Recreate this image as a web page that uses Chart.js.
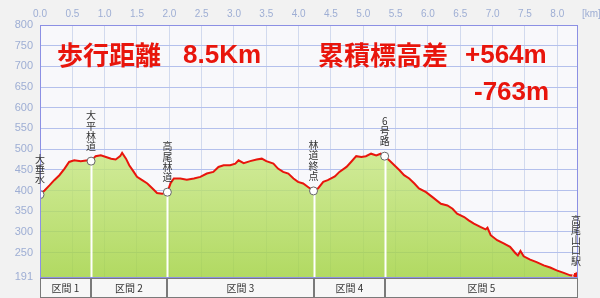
<!DOCTYPE html>
<html>
<head>
<meta charset="utf-8">
<script src="https://cdn.jsdelivr.net/npm/chart.js@4.4.0/dist/chart.umd.min.js"></script>
<style>
  html, body { margin: 0; padding: 0; background: #f2f2f2; }
  #wrap { width: 600px; height: 298px; }
</style>
</head>
<body>
<div id="wrap"><canvas id="profile" width="600" height="298"></canvas></div>
<script>
// elevation profile
const distKm = [0, 0.07, 0.15, 0.22, 0.30, 0.38, 0.45, 0.53, 0.63, 0.74, 0.79, 0.86, 0.94, 1.02, 1.10, 1.17, 1.24, 1.27, 1.33, 1.38,
  1.45, 1.50, 1.58, 1.66, 1.74, 1.81, 1.89, 1.97, 2.02, 2.07, 2.17, 2.27, 2.38, 2.48, 2.58, 2.68, 2.76, 2.84, 2.94, 3.02,
  3.07, 3.15, 3.25, 3.35, 3.43, 3.50, 3.61, 3.68, 3.76, 3.84, 3.92, 3.99, 4.07, 4.15, 4.23, 4.30, 4.38, 4.45, 4.56, 4.63,
  4.74, 4.81, 4.89, 4.97, 5.04, 5.12, 5.20, 5.27, 5.33, 5.40, 5.48, 5.56, 5.63, 5.71, 5.79, 5.86, 5.97, 6.07, 6.20, 6.30,
  6.38, 6.45, 6.56, 6.63, 6.71, 6.81, 6.89, 6.92, 6.97, 7.07, 7.17, 7.27, 7.35, 7.39, 7.43, 7.48, 7.58, 7.68, 7.79, 7.89,
  7.99, 8.10, 8.20, 8.30];
const elevM = [390, 400, 413, 425, 437, 453, 469, 473, 471, 473, 471, 483, 485, 481, 477, 475, 483, 491, 477, 461,
  445, 433, 425, 417, 405, 394, 392, 396, 418, 429, 429, 426, 429, 433, 441, 445, 457, 461, 461, 465,
  473, 466, 471, 475, 477, 471, 465, 453, 445, 441, 429, 421, 417, 408, 399, 405, 421, 425, 434, 445,
  457, 469, 483, 481, 483, 489, 485, 489, 483, 473, 461, 449, 437, 429, 417, 405, 396, 384, 368, 364,
  356, 344, 336, 328, 320, 312, 306, 310, 292, 280, 272, 264, 249, 243, 254, 241, 233, 227, 219, 214,
  207, 201, 195, 194];

const spotNames = ['大垂水', '大平林道', '高尾林道', '林道終点', '6号路', '高尾山口駅'];
const spotKm = [0, 0.79, 1.97, 4.23, 5.33, 8.30];
const spotElev = [390, 471, 396, 399, 483, 194];

const sectionNames = ['区間 1', '区間 2', '区間 3', '区間 4', '区間 5'];
const sectionBounds = [0, 0.79, 1.97, 4.23, 5.33, 8.32];

const xTicks = [0, 0.5, 1, 1.5, 2, 2.5, 3, 3.5, 4, 4.5, 5, 5.5, 6, 6.5, 7, 7.5, 8];
const yTicks = [191, 250, 300, 350, 400, 450, 500, 550, 600, 650, 700, 750, 800];

const titleDist = ['歩行距離', '8.5Km'];
const titleClimb = ['累積標高差', '+564m', '-763m'];

const TICK_COLOR = '#9eaed4';
const RED = '#e8150c';

const backdrop = {
  id: 'backdrop',
  beforeDraw(chart) {
    const {ctx, chartArea: a} = chart;
    ctx.save();
    ctx.fillStyle = '#f2f2f2';
    ctx.fillRect(0, 0, chart.width, chart.height);
    ctx.fillStyle = '#f8f8fb';
    ctx.fillRect(a.left, a.top, a.right - a.left, a.bottom - a.top);
    ctx.restore();
  }
};

//white drop lines under the waypoint markers
const dropLines = {
  id: 'dropLines',
  beforeDatasetDraw(chart, args) {
    if (args.index !== 0) return;
    const {ctx, scales: {x, y}, chartArea: a} = chart;
    ctx.save();
    ctx.strokeStyle = '#ffffff';
    ctx.lineWidth = 2;
    spotKm.forEach((km, i) => {
      if (i == 0 || i == spotKm.length - 1) return;
      const px = Math.round(x.getPixelForValue(km)) + 0.5;
      ctx.beginPath();
      ctx.moveTo(px, y.getPixelForValue(spotElev[i]));
      ctx.lineTo(px, a.bottom);
      ctx.stroke();
    });
    ctx.restore();
  }
};

const overlay = {
  id: 'overlay',
  afterDraw(chart) {
    const {ctx, scales: {x, y}, chartArea: a} = chart;
    ctx.save();

    // frame
    ctx.strokeStyle = '#8c90e4';
    ctx.lineWidth = 1;
    ctx.strokeRect(a.left + 0.5, a.top + 0.5, a.right - a.left - 1, a.bottom - a.top);

    ctx.fillStyle = TICK_COLOR;
    ctx.font = '10px "Liberation Sans"';
    ctx.textAlign = 'left';
    ctx.textBaseline = 'middle';
    ctx.fillText('[km]', a.right + 4, 14);

    // big red texts
    ctx.fillStyle = RED;
    ctx.textBaseline = 'middle';
    ctx.font = 'bold 26px "Noto Sans CJK JP"';
    ctx.fillText(titleDist[0], 57, 55);
    ctx.fillText(titleClimb[0], 318, 55);
    ctx.font = 'bold 26px "Liberation Sans"';
    ctx.fillText(titleDist[1], 183, 56);
    ctx.fillText(titleClimb[1], 465, 56);
    ctx.fillText(titleClimb[2], 474, 93);

    // vertical waypoint labels
    ctx.fillStyle = '#333';
    ctx.font = '10px "Noto Sans CJK JP"';
    ctx.textAlign = 'center';
    ctx.textBaseline = 'bottom';
    spotNames.forEach((name, i) => {
      const px = x.getPixelForValue(spotKm[i]);
      const chars = [...name];
      let py = y.getPixelForValue(spotElev[i]) - 10;
      for (let c = chars.length - 1; c >= 0; c--) {
        ctx.fillText(chars[c], Math.min(px, a.right - 2), py);
        py -= 10.2;
      }
    });

    // section strip
    const top = a.bottom + 1;
    const h = chart.height - top - 1;
    ctx.font = '10px "Noto Sans CJK JP"';
    ctx.textBaseline = 'middle';
    sectionNames.forEach((name, i) => {
      const x0 = Math.round(x.getPixelForValue(sectionBounds[i]));
      const x1 = Math.round(x.getPixelForValue(sectionBounds[i + 1]));
      ctx.fillStyle = '#f7f7f7';
      ctx.fillRect(x0, top, x1 - x0, h);
      ctx.strokeStyle = '#7a7a7a';
      ctx.strokeRect(x0 + 0.5, top + 0.5, x1 - x0 - 1, h);
      ctx.fillStyle = '#333';
      ctx.fillText(name, (x0 + x1) / 2, top + h / 2 + 1);
    });

    ctx.restore();
  }
};

function fillGradient(context) {
  const chart = context.chart;
  const a = chart.chartArea;
  if (!a) return 'rgba(170,214,70,0.75)';
  const g = chart.ctx.createLinearGradient(0, chart.scales.y.getPixelForValue(500), 0, a.bottom);
  g.addColorStop(0, 'rgba(200,232,130,0.8)');
  g.addColorStop(1, 'rgba(160,210,60,0.8)');
  return g;
}

new Chart(document.getElementById('profile'), {
  type: 'line',
  data: {
    datasets: [
      {
        label: 'spots',
        data: spotKm.map((km, i) => ({x: km, y: spotElev[i]})),
        showLine: false,
        pointRadius: 4,
        pointBorderWidth: 1,
        pointBackgroundColor: spotKm.map((k, i) => i == spotKm.length - 1 ? RED : '#ffffff'),
        pointBorderColor: spotKm.map((k, i) => i == spotKm.length - 1 ? '#ffffff' : '#666666'),
        order: 0
      },
      {
        label: 'elevation',
        data: distKm.map((km, i) => ({x: km, y: elevM[i]})),
        borderColor: RED,
        borderWidth: 2,
        backgroundColor: fillGradient,
        fill: 'start',
        pointRadius: 0,
        tension: 0,
        order: 1
      }
    ]
  },
  options: {
    responsive: false,
    animation: false,
    layout: { padding: { right: 22, bottom: 21 } },
    plugins: { legend: { display: false }, tooltip: { enabled: false } },
    scales: {
      x: {
        type: 'linear',
        position: 'top',
        min: 0,
        max: 8.32,
        afterBuildTicks: (scale) => { scale.ticks = xTicks.map(v => ({value: v})); },
        afterFit: (scale) => { scale.height = 25; },
        ticks: {
          color: TICK_COLOR,
          font: { family: 'Liberation Sans', size: 10 },
          padding: 5,
          maxRotation: 0,
          callback: (v) => v.toFixed(1)
        },
        grid: { color: '#d2daee', drawTicks: false },
        border: { display: false }
      },
      y: {
        min: 191,
        max: 800,
        afterBuildTicks: (scale) => { scale.ticks = yTicks.map(v => ({value: v})); },
        afterFit: (scale) => { scale.width = 40; },
        ticks: {
          color: TICK_COLOR,
          font: { family: 'Liberation Sans', size: 11 },
          padding: 7
        },
        grid: { color: '#b4c0ec', drawTicks: false },
        border: { display: false }
      }
    }
  },
  plugins: [backdrop, dropLines, overlay]
});
</script>
</body>
</html>
